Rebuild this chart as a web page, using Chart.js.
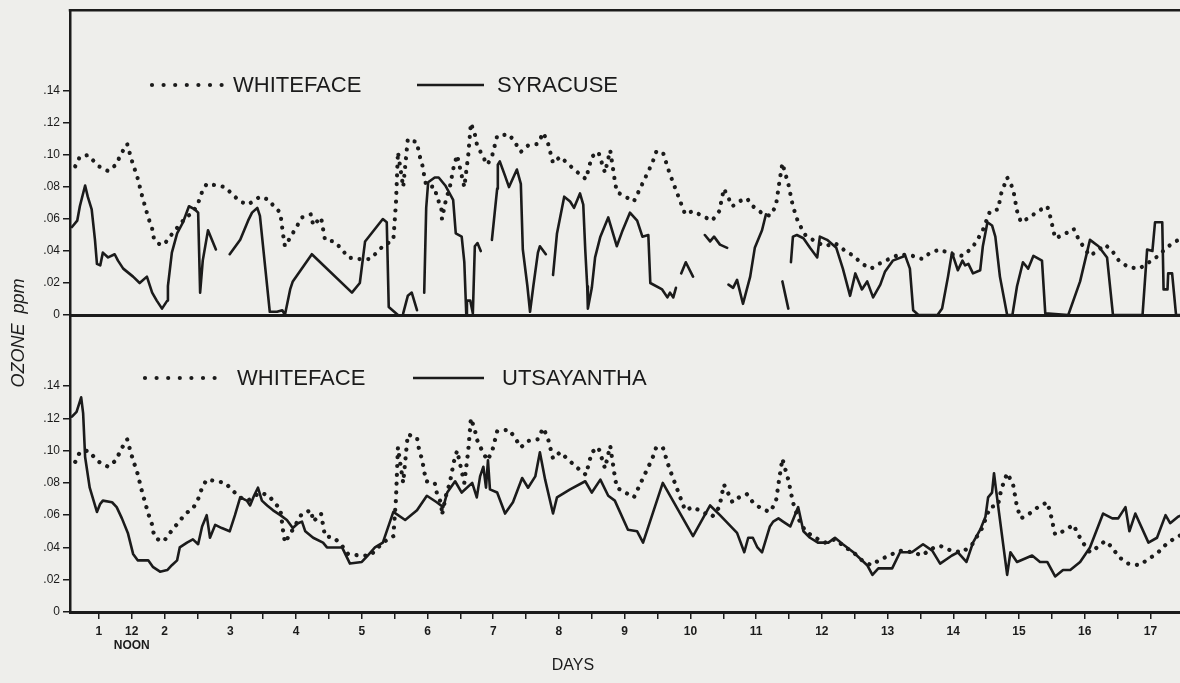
<!DOCTYPE html>
<html><head><meta charset="utf-8">
<script src="https://cdn.jsdelivr.net/npm/chart.js@4.4.1/dist/chart.umd.min.js"></script>
<style>
html,body{margin:0;padding:0;background:#eeeeeb;}
#wrap{position:relative;width:1180px;height:683px;overflow:hidden;}
canvas{position:absolute;left:0;top:0;}
</style></head><body>
<div id="wrap"><canvas id="topChart" width="1180" height="683"></canvas><canvas id="bottomChart" width="1180" height="683"></canvas></div>
<script>
// ---- DATA ----
const whitefaceDays = [
0.64,0.71,0.83,1.00,1.14,1.26,1.34,1.43,1.47,1.52,
1.58,1.66,1.75,1.81,1.84,1.93,1.99,2.10,2.20,2.32,
2.43,2.51,2.57,2.64,2.80,2.92,3.04,3.15,3.27,3.45,
3.59,3.66,3.76,3.80,3.83,3.92,4.09,4.23,4.26,4.38,
4.44,4.58,4.70,4.79,4.96,5.13,5.32,5.48,5.52,5.55,
5.63,5.70,5.84,5.87,5.92,5.95,5.98,6.11,6.14,6.21,
6.22,6.28,6.34,6.40,6.45,6.56,6.62,6.66,6.72,6.75,
6.83,6.91,6.98,7.06,7.24,7.33,7.42,7.53,7.68,7.76,
7.83,7.91,8.02,8.15,8.29,8.41,8.50,8.60,8.70,8.78,
8.85,8.88,9.01,9.14,9.28,9.42,9.48,9.58,9.68,9.80,
9.92,10.04,10.18,10.33,10.44,10.51,10.57,10.64,10.74,10.86,
10.95,11.08,11.21,11.30,11.35,11.40,11.44,11.49,11.56,11.64,
11.75,11.90,12.05,12.20,12.36,12.48,12.61,12.75,12.87,13.02,
13.19,13.38,13.53,13.65,13.80,13.97,14.14,14.29,14.44,14.56,
14.68,14.73,14.82,14.91,14.97,15.03,15.16,15.29,15.43,15.48,
15.55,15.67,15.83,15.90,15.99,16.08,16.19,16.31,16.42,16.52,
16.66,16.83,16.98,17.12,17.24,17.38,17.48];
const whitefacePpm = [
.093,.099,.100,.093,.090,.094,.101,.107,.101,.094,
.087,.074,.061,.054,.047,.044,.044,.050,.055,.061,
.064,.070,.077,.082,.081,.080,.075,.071,.069,.074,
.072,.068,.064,.051,.043,.049,.061,.063,.056,.061,
.047,.046,.041,.036,.035,.035,.043,.047,.070,.102,
.080,.110,.108,.101,.094,.087,.081,.080,.074,.067,
.060,.072,.080,.093,.100,.080,.100,.120,.113,.107,
.100,.094,.099,.112,.113,.108,.102,.106,.107,.114,
.108,.095,.099,.094,.089,.085,.099,.102,.089,.103,
.084,.077,.074,.071,.083,.095,.102,.102,.089,.076,
.063,.065,.062,.059,.065,.079,.074,.068,.071,.073,
.068,.064,.062,.068,.082,.095,.089,.082,.068,.058,
.050,.046,.043,.045,.040,.037,.032,.029,.032,.035,
.038,.037,.035,.039,.041,.038,.037,.042,.052,.065,
.066,.076,.086,.079,.065,.058,.061,.065,.068,.061,
.048,.050,.054,.048,.042,.037,.040,.044,.040,.034,
.030,.029,.033,.037,.042,.046,.048];

const syracuseDays = [
0.59,0.67,0.71,0.79,0.83,0.89,0.94,0.97,1.02,1.06,1.14,1.24,1.29,1.37,1.52,1.62,1.73,1.81,1.88,1.96,2.04,2.05,2.11,2.19,2.28,2.37,2.46,2.51,2.54,2.58,2.66,2.78,2.85,
2.99,3.15,3.27,3.33,3.41,3.45,3.53,3.60,3.71,3.79,3.83,3.91,3.95,4.24,4.85,4.97,5.05,5.32,5.38,5.41,5.55,5.59,
5.63,5.70,5.76,5.84,5.89,
5.95,5.98,6.01,6.11,6.17,6.27,6.39,6.43,6.52,6.56,6.59,6.60,6.65,6.69,6.72,6.76,6.81,6.88,
6.98,7.06,7.07,7.10,7.18,7.24,7.36,7.42,7.45,7.52,7.56,7.61,7.68,7.71,7.80,7.85,
7.91,7.97,8.08,8.17,8.23,8.32,8.37,8.40,8.43,8.44,8.50,8.55,8.63,8.75,8.88,8.96,9.08,9.19,9.27,9.36,9.39,9.57,9.65,9.69,9.74,9.78,9.82,
9.86,9.93,10.04,10.10,
10.22,10.30,10.36,10.45,10.56,10.57,
10.58,10.65,10.71,10.80,10.91,10.98,11.09,11.15,11.20,
11.40,11.49,11.51,
11.53,11.56,11.62,11.72,11.82,11.93,11.97,12.08,12.22,12.32,12.43,12.51,12.61,12.69,12.78,12.89,12.96,13.08,13.27,13.34,13.39,13.47,13.76,13.83,13.92,13.98,14.07,14.14,14.18,14.23,14.30,14.41,14.45,14.52,14.59,14.64,14.71,14.82,14.90,14.97,15.06,15.14,15.22,15.35,15.40,15.75,15.93,16.08,16.21,16.34,16.43,16.88,16.95,17.03,17.07,17.18,17.20,17.26,17.27,17.33,17.39,17.48];
const syracusePpm = [
.055,.059,.068,.081,.074,.066,.047,.032,.031,.039,.036,.038,.034,.029,.024,.020,.024,.014,.009,.004,.009,.018,.039,.051,.058,.068,.066,.064,.014,.034,.053,.041,null,
.038,.047,.059,.064,.067,.062,.030,.002,.002,.003,.000,.016,.021,.038,.014,.020,.046,.060,.058,.005,.000,null,
.001,.012,.014,.003,null,
.014,.067,.083,.086,.086,.081,.072,.051,.049,.033,.000,.009,.009,.001,.043,.045,.040,null,
.047,.079,.094,.096,.087,.080,.091,.082,.041,.018,.002,.018,.039,.043,.038,null,
.025,.051,.074,.071,.067,.076,.069,.041,.018,.004,.017,.036,.049,.061,.043,.052,.064,.059,.049,.050,.020,.016,.011,.014,.011,.017,null,
.026,.033,.024,null,
.050,.046,.049,.044,.042,null,
.019,.017,.022,.007,.024,.042,.053,.063,null,
.021,.004,null,
.033,.049,.050,.048,.042,.036,.049,.047,.042,.029,.012,.026,.016,.021,.011,.019,.027,.034,.037,.029,.003,.000,.000,.004,.024,.039,.028,.034,.031,.032,.026,.028,.043,.058,.056,.049,.024,.000,.000,.018,.033,.029,.037,.034,.001,.000,.021,.047,.043,.036,.000,.000,.041,.040,.058,.058,.016,.016,.026,.026,.000,.000];

const utsayanthaDays = [
0.59,0.66,0.73,0.76,0.79,0.86,0.97,1.02,1.06,1.20,
1.27,1.35,1.44,1.52,1.59,1.75,1.82,1.93,2.04,2.11,
2.19,2.23,2.34,2.43,2.51,2.57,2.64,2.69,2.77,2.87,
2.99,3.07,3.15,3.25,3.30,3.36,3.42,3.48,3.56,3.65,
3.76,3.86,3.95,4.03,4.09,4.14,4.26,4.41,4.47,4.59,
4.70,4.82,5.00,5.09,5.20,5.32,5.48,5.66,5.84,5.99,
6.14,6.24,6.30,6.42,6.52,6.68,6.75,6.80,6.85,6.89,
6.92,6.95,7.06,7.18,7.30,7.44,7.53,7.64,7.71,7.79,
7.91,7.97,8.17,8.40,8.50,8.63,8.75,8.85,9.05,9.19,
9.28,9.58,10.04,10.30,10.45,10.71,10.82,10.88,10.95,11.02,
11.09,11.21,11.26,11.34,11.41,11.52,11.64,11.72,11.82,11.94,
12.10,12.20,12.32,12.48,12.69,12.77,12.86,13.07,13.19,13.37,
13.54,13.68,13.80,13.98,14.07,14.20,14.30,14.41,14.49,14.53,
14.59,14.62,14.65,14.82,14.87,14.97,15.20,15.32,15.43,15.55,
15.67,15.78,15.93,16.08,16.28,16.42,16.51,16.62,16.68,16.77,
16.97,17.10,17.23,17.30,17.42,17.48];
const utsayanthaPpm = [
.121,.124,.133,.123,.096,.077,.062,.067,.069,.068,
.065,.058,.049,.036,.032,.032,.028,.025,.026,.029,
.032,.040,.043,.045,.042,.053,.060,.046,.054,.052,
.050,.060,.071,.069,.066,.072,.077,.069,.066,.063,
.060,.057,.052,.055,.056,.050,.046,.043,.040,.040,
.040,.030,.031,.035,.040,.043,.062,.057,.063,.072,
.068,.065,.074,.081,.074,.080,.071,.084,.090,.077,
.094,.076,.074,.061,.068,.083,.077,.084,.099,.082,
.061,.071,.076,.081,.074,.082,.072,.069,.051,.050,
.043,.080,.047,.066,.060,.049,.037,.046,.046,.040,
.037,.053,.056,.058,.056,.053,.065,.050,.046,.043,
.043,.046,.042,.037,.029,.023,.027,.027,.037,.037,
.042,.038,.030,.035,.037,.031,.043,.051,.059,.071,
.074,.086,.076,.023,.037,.031,.035,.031,.031,.022,
.026,.026,.031,.040,.061,.058,.058,.065,.050,.061,
.043,.046,.060,.055,.059,.060];

const xTickDays = [1,1.5,2,2.5,3,3.5,4,4.5,5,5.5,6,6.5,7,7.5,8,8.5,9,9.5,10,10.5,11,11.5,12,12.5,13,13.5,14,14.5,15,15.5,16,16.5,17];
const xTickLabels = ['1',['12','NOON'],'2','','3','','4','','5','','6','','7','','8','','9','','10','','11','','12','','13','','14','','15','','16','','17'];
const yTickValues = [0,0.02,0.04,0.06,0.08,0.10,0.12,0.14];
const yTickLabels = ['0','.02','.04','.06','.08','.10','.12','.14'];

// ---- STYLE / HELPERS ----
const ink = '#1b1b1b';
const FONT = '"Liberation Sans", Arial, sans-serif';
function pts(days, vals){ return days.map((d,i)=>({x:d, y:vals[i]})); }

const decor = {
  id:'decor',
  afterDraw(chart, args, o){
    const ctx = chart.ctx, a = chart.chartArea, ds = chart.data.datasets;
    ctx.save();
    ctx.strokeStyle = ink; ctx.fillStyle = ink;
    if (o.topBorder){
      ctx.lineWidth = 2.5; ctx.beginPath();
      ctx.moveTo(a.left-1.25, a.top); ctx.lineTo(a.right, a.top); ctx.stroke();
    }
    const L = o.legend;
    ctx.lineCap = 'round'; ctx.lineWidth = 4.2; ctx.setLineDash([0.001, 11.6]);
    ctx.beginPath(); ctx.moveTo(L.dotFrom, L.y); ctx.lineTo(L.dotTo+1, L.y); ctx.stroke();
    ctx.setLineDash([]); ctx.lineCap='butt'; ctx.lineWidth = 2.6;
    ctx.beginPath(); ctx.moveTo(L.lineFrom, L.y); ctx.lineTo(L.lineTo, L.y); ctx.stroke();
    ctx.font = '22px ' + FONT; ctx.textBaseline = 'middle'; ctx.textAlign = 'left';
    ctx.fillText(ds[0].label, L.text1, L.y+1);
    ctx.fillText(ds[1].label, L.text2, L.y+1);
    if (o.yTitle){
      ctx.save();
      ctx.translate(o.yTitle.x, o.yTitle.y); ctx.rotate(-Math.PI/2);
      ctx.font = 'italic 18px ' + FONT; ctx.textAlign='center'; ctx.textBaseline='middle';
      ctx.fillText(o.yTitle.text, 0, 0);
      ctx.restore();
    }
    if (o.xTitle){
      ctx.font = '16px ' + FONT; ctx.textAlign='center'; ctx.textBaseline='middle';
      ctx.fillText(o.xTitle.text, o.xTitle.x, o.xTitle.y);
    }
    ctx.restore();
  }
};

function yScale(max){
  return {
    type:'linear', position:'left', min:0, max:max,
    afterBuildTicks(s){ s.ticks = yTickValues.map(v=>({value:v})); },
    afterFit(s){ s.width = 70; },
    ticks:{ callback:(v,i)=>yTickLabels[i], color:ink, padding:3, font:{family:FONT, size:12} },
    grid:{ drawOnChartArea:false, drawTicks:true, tickLength:7, color:ink, lineWidth:1.5 },
    border:{ display:true, color:ink, width:2.5 }
  };
}
function baseOptions(){
  return {
    responsive:false, animation:false, devicePixelRatio:1,
    events:[],
    plugins:{ legend:{display:false}, tooltip:{enabled:false} },
    elements:{ point:{radius:0}, line:{tension:0} }
  };
}
function dotted(label, days, vals){
  return { label, data:pts(days, vals), borderColor:ink, borderWidth:4.2,
    borderDash:[0.001, 8.8], borderCapStyle:'round', borderJoinStyle:'round',
    pointRadius:0, spanGaps:false, fill:false };
}
function solid(label, days, vals){
  return { label, data:pts(days, vals), borderColor:ink, borderWidth:2.6,
    borderCapStyle:'round', borderJoinStyle:'round', pointRadius:0, spanGaps:false, fill:false };
}

// ---- TOP PANEL ----
const topOpts = baseOptions();
topOpts.layout = { padding:{ top:10, left:0, right:0, bottom:0 } };
topOpts.scales = {
  x:{ type:'linear', min:0.56, max:17.45,
      afterFit(s){ s.height = 683-315; },
      ticks:{display:false}, grid:{display:false},
      border:{display:true, color:ink, width:3} },
  y: yScale(0.1906)
};
topOpts.plugins.decor = {
  topBorder:true,
  legend:{ y:85, dotFrom:152, dotTo:222, lineFrom:417, lineTo:484, text1:233, text2:497 }
};
new Chart(document.getElementById('topChart'), {
  type:'line',
  data:{ datasets:[ dotted('WHITEFACE', whitefaceDays, whitefacePpm), solid('SYRACUSE', syracuseDays, syracusePpm) ] },
  options: topOpts, plugins:[decor]
});

// ---- BOTTOM PANEL ----
const botOpts = baseOptions();
botOpts.layout = { padding:{ top:315, left:0, right:0, bottom:0 } };
botOpts.scales = {
  x:{ type:'linear', min:0.56, max:17.45,
      afterBuildTicks(s){ s.ticks = xTickDays.map(v=>({value:v})); },
      afterFit(s){ s.height = 683-612; },
      ticks:{ callback:(v,i)=>xTickLabels[i], color:ink, padding:5, maxRotation:0, autoSkip:false,
              font:{family:FONT, size:12, weight:'bold'}, lineHeight:1.05 },
      grid:{ drawOnChartArea:false, drawTicks:true, tickLength:7, color:ink, lineWidth:1.5 },
      border:{display:true, color:ink, width:3} },
  y: yScale(0.184)
};
botOpts.plugins.decor = {
  legend:{ y:378, dotFrom:145, dotTo:222, lineFrom:413, lineTo:484, text1:237, text2:502 },
  yTitle:{ text:'OZONE  ppm', x:19, y:333 },
  xTitle:{ text:'DAYS', x:573, y:666 }
};
new Chart(document.getElementById('bottomChart'), {
  type:'line',
  data:{ datasets:[ dotted('WHITEFACE', whitefaceDays, whitefacePpm), solid('UTSAYANTHA', utsayanthaDays, utsayanthaPpm) ] },
  options: botOpts, plugins:[decor]
});
</script>
</body></html>
